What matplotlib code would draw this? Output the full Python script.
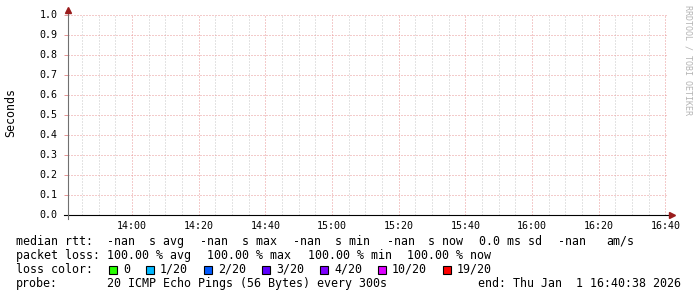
import matplotlib
matplotlib.use("Agg")
import matplotlib.pyplot as plt
import matplotlib.dates as mdates
from matplotlib.patches import Rectangle
from datetime import datetime, timedelta

######### data ##########
end_time = datetime(2026, 1, 1, 16, 40, 38)
start_time = end_time - timedelta(hours=3)
y_ticks = [0.0, 0.1, 0.2, 0.3, 0.4, 0.5, 0.6, 0.7, 0.8, 0.9, 1.0]
rtt_names = ["avg", "max", "min", "now"]
rtt_values = ["-nan", "-nan", "-nan", "-nan"]
rtt_sd = "0.0 ms sd"
rtt_am = "-nan"
loss_names = ["avg", "max", "min", "now"]
loss_values = [100.00, 100.00, 100.00, 100.00]
loss_labels = ["0", "1/20", "2/20", "3/20", "4/20", "10/20", "19/20"]
loss_colors = ["#26ff00", "#00b8ff", "#0059ff", "#5e00ff", "#7e00ff", "#dd00ff", "#ff0000"]
probe_text = "20 ICMP Echo Pings (56 Bytes) every 300s"
end_text = "end: Thu Jan  1 16:40:38 2026"
######### data ##########

W, H = 697, 297
MONO = "DejaVu Sans Mono"
plt.rcParams["font.family"] = MONO

fig = plt.figure(figsize=(W / 100, H / 100), dpi=100)
fig.patch.set_facecolor("white")


def fx(x):
    return x / W


def fy(y):
    return 1 - y / H


# half-pixel offsets so the 1px grid lines sit on pixel centres
ax = fig.add_axes([fx(67.5), fy(214.5), 600 / W, 200 / H])
ax.set_xlim(start_time, end_time)
ax.set_ylim(0, 1)

ax.xaxis.set_major_locator(mdates.MinuteLocator(byminute=[0, 20, 40]))
ax.xaxis.set_minor_locator(mdates.MinuteLocator(byminute=range(0, 60, 5)))
ax.xaxis.set_major_formatter(mdates.DateFormatter("%H:%M"))
ax.set_yticks(y_ticks)
ax.set_yticklabels(["%.1f" % v for v in y_ticks])

grid_ls = (0, (1, 2))
ax.xaxis.grid(True, which="minor", color="#c8c8c8", ls=grid_ls, lw=0.72)
ax.xaxis.grid(True, which="major", color="#e89898", ls=grid_ls, lw=0.72)
ax.yaxis.grid(True, which="major", color="#e89898", ls=grid_ls, lw=0.72)
ax.set_axisbelow(True)

for s in ax.spines.values():
    s.set_visible(False)

ax.tick_params(axis="y", which="major", length=3, width=0.72, color="#e89898",
               labelsize=7.2, pad=4, labelcolor="black")
ax.tick_params(axis="x", which="major", length=0, labelsize=7.2, pad=5, labelcolor="black")
ax.tick_params(axis="x", which="minor", length=0)

# axis lines with arrows
ax.plot([-0.006, 1.006], [0, 0], color="black", lw=0.8, transform=ax.transAxes, clip_on=False)
ax.plot([0, 0], [-0.02, 1.01], color="#707070", lw=0.8, transform=ax.transAxes, clip_on=False)
ax.plot([0], [1.022], marker="^", ms=4.5, color="#9a1c1c", transform=ax.transAxes, clip_on=False)
ax.plot([1.007], [0], marker=">", ms=4.5, color="#9a1c1c", transform=ax.transAxes, clip_on=False)

fig.text(fx(11), fy(113), "Seconds", rotation=90, ha="center", va="center", fontsize=8.4)
fig.text(fx(688), fy(5), "RRDTOOL / TOBI OETIKER", rotation=270, ha="center", va="top",
         fontsize=6, color="#b4b4b4")

fs = 8.4
cw = 7  # px per character

# row 1: median rtt
row1 = [("median rtt:", 16)]
xs_val = [107, 200, 293, 387]
xs_name = [149, 242, 335, 428]
for v, n, xv, xn in zip(rtt_values, rtt_names, xs_val, xs_name):
    row1.append((v, xv))
    row1.append(("s " + n, xn))
row1.append((rtt_sd, 479))
row1.append((rtt_am, 558))
row1.append(("am/s", 606))
for t, x in row1:
    fig.text(fx(x), fy(245), t, fontsize=fs, va="baseline")

# row 2: packet loss
fig.text(fx(16), fy(259), "packet loss:", fontsize=fs, va="baseline")
for v, n, x in zip(loss_values, loss_names, [107, 207, 308, 407]):
    fig.text(fx(x), fy(259), "%.2f %% %s" % (v, n), fontsize=fs, va="baseline")

# row 3: loss colors
fig.text(fx(16), fy(273), "loss color:", fontsize=fs, va="baseline")
lx = 123
for lab, col in zip(loss_labels, loss_colors):
    fig.add_artist(Rectangle((fx(lx - 14), fy(273.5)), 8 / W, 8 / H, transform=fig.transFigure,
                             facecolor=col, edgecolor="black", lw=0.8))
    fig.text(fx(lx), fy(273), lab, fontsize=fs, va="baseline")
    lx += len(lab) * cw + 30

# row 4: probe
fig.text(fx(16), fy(287), "probe:", fontsize=fs, va="baseline")
fig.text(fx(107), fy(287), probe_text, fontsize=fs, va="baseline")
fig.text(fx(478), fy(287), end_text, fontsize=fs, va="baseline")

fig.savefig("out.png", dpi=100, facecolor="white")
